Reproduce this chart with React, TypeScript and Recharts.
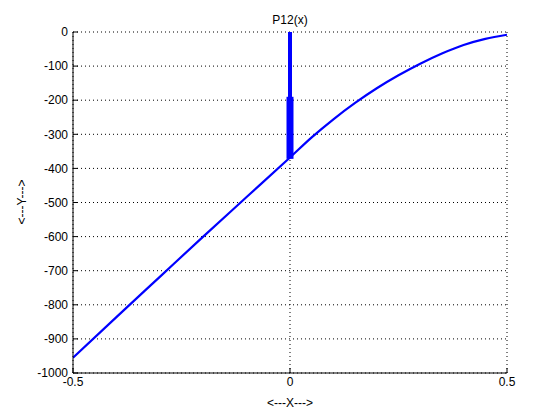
import { CartesianGrid, Line, LineChart, XAxis, YAxis } from "recharts";

const xTicks = [-0.5, 0, 0.5];
const yTicks = [0, -100, -200, -300, -400, -500, -600, -700, -800, -900, -1000];

// main curve P12(x)
const curveX = [-0.5, -0.4, -0.3, -0.2, -0.1, 0, 0.05, 0.1, 0.15, 0.2, 0.25, 0.3, 0.35, 0.4, 0.45, 0.5];
const curveY = [-955, -836, -718, -600, -484, -368, -309, -256, -208, -165, -127, -93, -63, -38, -20, -8];

// spike at x = 0
const spikeThinY = [0, -370];
const spikeWideY = [-190, -372];

const curve = curveX.map((x, i) => ({ x, y: curveY[i] }));
const spikeThin = spikeThinY.map((y) => ({ x: 0, y }));
const spikeWide = spikeWideY.map((y) => ({ x: 0, y }));

const tickStyle = { fontSize: 12, fill: "#000", fontFamily: "Arial, 'Liberation Sans', sans-serif" };

export default function App() {
  return (
    <div style={{ position: "relative", width: 544, height: 404, fontFamily: "Arial, 'Liberation Sans', sans-serif", color: "#000" }}>
      <LineChart width={544} height={404} margin={{ top: 24, right: 45, bottom: 0, left: 5 }}>
        <CartesianGrid stroke="#000" strokeDasharray="1 3" />
        <XAxis
          dataKey="x"
          type="number"
          domain={[-0.5, 0.5]}
          ticks={xTicks}
          height={39}
          stroke="#000"
          tick={tickStyle}
          tickSize={-5}
          tickMargin={9}
          allowDataOverflow
        />
        <XAxis
          xAxisId="t"
          orientation="top"
          type="number"
          domain={[-0.5, 0.5]}
          ticks={xTicks}
          height={0}
          stroke="#000"
          tick={false}
          tickSize={-5}
        />
        <YAxis
          type="number"
          domain={[-1000, 0]}
          ticks={yTicks}
          width={60}
          stroke="#000"
          tick={tickStyle}
          tickSize={-5}
          tickMargin={10}
          allowDataOverflow
        />
        <YAxis
          yAxisId="r"
          orientation="right"
          type="number"
          domain={[-1000, 0]}
          ticks={yTicks}
          width={0}
          stroke="#000"
          tick={false}
          tickSize={-5}
        />
        <Line data={spikeThin} dataKey="y" stroke="#0000ff" strokeWidth={4} dot={false} isAnimationActive={false} />
        <Line data={spikeWide} dataKey="y" stroke="#0000ff" strokeWidth={7} dot={false} isAnimationActive={false} />
        <Line data={curve} dataKey="y" type="monotone" stroke="#0000ff" strokeWidth={2.2} dot={false} isAnimationActive={false} />
      </LineChart>
      <div style={{ position: "absolute", left: 0, width: 564, top: 5, textAlign: "center", fontSize: 12, lineHeight: "14px" }}>
        P12(x)
      </div>
      <div style={{ position: "absolute", left: 0, width: 564, top: 388, textAlign: "center", fontSize: 12, lineHeight: "14px" }}>
        &lt;---X---&gt;
      </div>
      <div
        style={{
          position: "absolute",
          left: 14,
          top: 194,
          width: 0,
          height: 0,
          fontSize: 12,
          lineHeight: "14px",
        }}
      >
        <div style={{ position: "absolute", transform: "translate(-50%, -50%) rotate(-90deg)", whiteSpace: "nowrap" }}>
          &lt;---Y---&gt;
        </div>
      </div>
    </div>
  );
}
